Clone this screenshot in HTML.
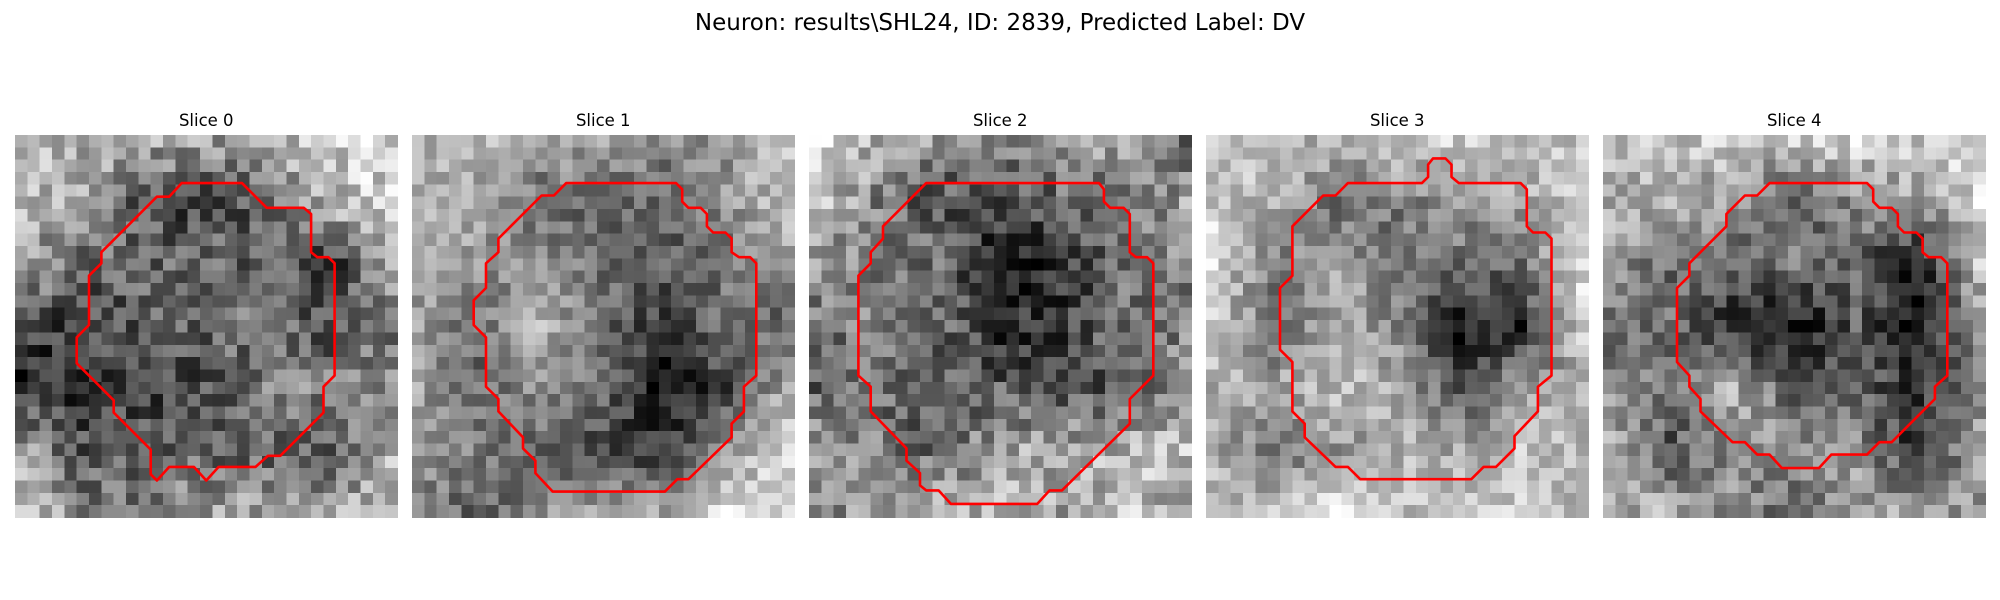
<!DOCTYPE html>
<html><head><meta charset="utf-8"><style>
html,body{margin:0;padding:0;background:#fff;}
body{width:2000px;height:600px;overflow:hidden;position:relative;font-family:"Liberation Sans","DejaVu Sans",sans-serif;}
svg{position:absolute;left:0;top:0;}
</style></head><body>
<svg id="fig" width="2000" height="600">
<text x="1000" y="30" text-anchor="middle" font-size="23" fill="#000" font-family="DejaVu Sans, Liberation Sans, sans-serif">Neuron: results\SHL24, ID: 2839, Predicted Label: DV</text>
</svg>
<script>
// Slice titles
const sliceTitles = ["Slice 0","Slice 1","Slice 2","Slice 3","Slice 4"];
// Coarse 7x7 brightness maps (0-255) per slice
const brightness0 = [[165,160,150,140,150,175,170],[160,140,100,95,110,160,175],[150,115,115,115,110,90,140],[95,90,110,115,120,100,120],[80,85,95,100,130,130,140],[150,100,105,110,110,105,150],[175,130,130,145,150,150,160]];
const brightness1 = [[160,170,150,155,130,140,185],[165,150,110,110,100,140,175],[150,140,140,110,100,110,150],[150,110,165,110,70,120,100],[150,110,140,110,40,80,160],[140,120,100,80,70,150,190],[130,100,140,150,150,190,180]];
const brightness2 = [[190,160,140,130,150,150,110],[170,130,100,100,110,120,150],[140,130,120,70,80,120,130],[120,130,120,75,90,120,130],[110,120,110,110,100,110,140],[150,130,110,150,150,160,170],[130,150,160,160,150,170,150]];
const brightness3 = [[160,160,150,170,170,150,170],[170,150,100,110,130,140,170],[180,110,140,100,100,100,170],[170,100,150,120,40,50,180],[150,140,160,140,80,130,140],[150,100,130,150,140,160,160],[160,160,180,160,170,170,160]];
const brightness4 = [[175,175,175,180,185,180,190],[160,160,150,100,140,150,185],[150,120,110,130,110,60,170],[110,120,80,50,110,60,140],[140,130,160,110,110,80,140],[160,100,140,150,140,80,150],[160,160,140,110,160,150,150]];
// Contours in cell units (x, y) on a 31x31 grid
const contour0 = [[13.5,3.9],[18.4,3.9],[20.4,5.9],[23.4,5.9],[24,6.4],[24,9.5],[24.5,9.9],[25.4,9.9],[25.9,10.4],[25.9,19.5],[25,20.4],[25,22.5],[21.5,26],[20.5,26],[19.5,26.9],[16.5,26.9],[15.5,28],[14.5,26.9],[12.5,26.9],[11.5,28],[11,27.5],[11,25.5],[8,22.5],[8,21.5],[5,18.5],[5,16.4],[6,15.4],[6,11.4],[7,10.4],[7,9.5],[11.5,5],[12.5,5]];
const contour1 = [[12.5,3.9],[21.4,3.9],[21.9,4.4],[21.9,5.4],[22.4,5.9],[23.4,5.9],[23.9,6.4],[23.9,7.4],[24.4,7.9],[25.4,7.9],[25.9,8.4],[25.9,9.5],[26.5,9.9],[27.4,9.9],[27.9,10.4],[27.9,19.5],[26.9,20.4],[26.9,22.4],[25.9,23.4],[25.9,24.5],[22.4,27.9],[21.5,27.9],[20.5,28.9],[11.4,28.9],[10,27.4],[10,26.4],[9,25.4],[9,24.5],[7,22.4],[7,21.4],[6,20.4],[6,16.4],[5,15.4],[5,13.4],[6,12.4],[6,10.4],[7,9.5],[7,8.4],[10.5,4.9],[11.5,4.9]];
const contour2 = [[9.5,3.9],[23.5,3.9],[23.9,4.4],[23.9,5.4],[24.4,5.9],[25.5,5.9],[26,6.4],[26,9.5],[26.5,9.9],[27.4,9.9],[27.9,10.4],[27.9,19.5],[26,21.4],[26,23.4],[20.5,28.8],[19.5,28.8],[18.5,29.9],[11.5,29.9],[10.5,28.8],[9.5,28.8],[9,28.4],[9,27.4],[7.9,26.4],[7.9,25.4],[5,22.4],[5,20.4],[4,19.5],[4,11.4],[5,10.4],[5,9.5],[6,8.4],[6,7.4]];
const contour3 = [[11.5,3.9],[17.5,3.9],[18,3.4],[18,2.4],[18.4,1.9],[19.4,1.9],[19.9,2.4],[19.9,3.4],[20.5,3.9],[25.5,3.9],[26,4.4],[26,7.4],[26.5,7.9],[27.5,7.9],[28,8.4],[28,19.5],[26.9,20.4],[26.9,22.4],[25,24.4],[25,25.4],[23.5,26.9],[22.5,26.9],[21.5,27.9],[12.5,27.9],[11.5,26.9],[10.5,26.9],[8,24.5],[8,23.4],[7,22.4],[7,18.4],[6,17.4],[6,12.4],[7,11.4],[7,7.4],[9.5,4.9],[10.5,4.9]];
const contour4 = [[13.5,3.9],[21.4,3.9],[21.9,4.4],[21.9,5.4],[22.4,5.9],[23.4,5.9],[23.9,6.4],[23.9,7.4],[24.4,7.9],[25.4,7.9],[25.9,8.4],[25.9,9.5],[26.4,9.9],[27.4,9.9],[27.9,10.4],[27.9,19.5],[26.9,20.4],[26.9,21.4],[23.4,24.9],[22.4,24.9],[21.4,25.9],[18.5,25.9],[17.5,27],[14.5,27],[13.5,25.9],[12.5,25.9],[11.5,24.9],[10.5,24.9],[7.9,22.4],[7.9,21.4],[7,20.4],[7,19.5],[6,18.4],[6,12.4],[7,11.4],[7,10.4],[10,7.4],[10,6.4],[11.5,4.9],[12.5,4.9]];

const maps=[brightness0,brightness1,brightness2,brightness3,brightness4];
const contours=[contour0,contour1,contour2,contour3,contour4];
const NS="http://www.w3.org/2000/svg";
const svg=document.getElementById('fig');
const N=31, panelX=[15,412,809,1206,1603], panelY=135, size=382.5, cell=size/N;
function texture(s,i,j){let h=Math.sin((s+1)*127.1+i*311.7+j*74.7)*43758.5453;return (h-Math.floor(h))-0.5;}
function sample(m,i,j){
  const fx=j/(N-1)*6, fy=i/(N-1)*6;
  const x0=Math.min(5,Math.floor(fx)), y0=Math.min(5,Math.floor(fy)), tx=fx-x0, ty=fy-y0;
  const a=m[y0][x0]*(1-tx)+m[y0][x0+1]*tx, b=m[y0+1][x0]*(1-tx)+m[y0+1][x0+1]*tx;
  return a*(1-ty)+b*ty;
}
for(let s=0;s<5;s++){
  const g=document.createElementNS(NS,'g');
  
  
  svg.appendChild(g);
  const t=document.createElementNS(NS,'text');
  t.setAttribute('x',panelX[s]+size/2);t.setAttribute('y',126);
  t.setAttribute('text-anchor','middle');t.setAttribute('font-size','16.5');
  t.setAttribute('font-family','DejaVu Sans, Liberation Sans, sans-serif');
  t.textContent=sliceTitles[s];
  
  
  g.appendChild(t);
  const img=document.createElementNS(NS,'g');
  
  
  img.setAttribute('shape-rendering','crispEdges');
  g.appendChild(img);
  const vals=[];let mn=1e9,mx=-1e9;
  for(let i=0;i<N;i++)for(let j=0;j<N;j++){
    const v=sample(maps[s],i,j)+texture(s,i,j)*60;
    vals.push(v);mn=Math.min(mn,v);mx=Math.max(mx,v);
  }
  let html='';
  for(let i=0;i<N;i++)for(let j=0;j<N;j++){
    let v=Math.round((vals[i*N+j]-mn)/(mx-mn)*255);
    html+=`<rect x="${(panelX[s]+j*cell).toFixed(2)}" y="${(panelY+i*cell).toFixed(2)}" width="${(cell+0.6).toFixed(2)}" height="${(cell+0.6).toFixed(2)}" fill="rgb(${v},${v},${v})"/>`;
  }
  img.innerHTML=html;
  const p=document.createElementNS(NS,'polygon');
  p.setAttribute('points',contours[s].map(c=>(panelX[s]+c[0]*cell).toFixed(1)+','+(panelY+c[1]*cell).toFixed(1)).join(' '));
  p.setAttribute('fill','none');p.setAttribute('stroke','#ff0000');p.setAttribute('stroke-width','2.6');
  p.setAttribute('stroke-linejoin','round');
  
  
  g.appendChild(p);
}
</script>
</body></html>
